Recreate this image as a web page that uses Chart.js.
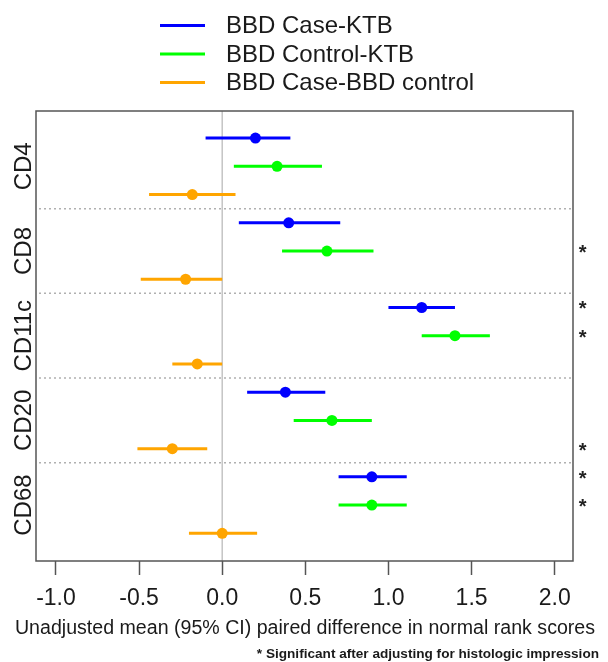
<!DOCTYPE html>
<html><head><meta charset="utf-8">
<script src="https://cdn.jsdelivr.net/npm/chart.js@4.4.0/dist/chart.umd.min.js"></script>
<style>html,body{margin:0;padding:0;background:#fff;}#wrap{position:relative;width:608px;height:662px;}</style>
</head><body><div id="wrap"><canvas id="c" width="608" height="662"></canvas></div>
<script>
const categories = ['CD4', 'CD8', 'CD11c', 'CD20', 'CD68'];
const seriesNames = ['BBD Case-KTB', 'BBD Control-KTB', 'BBD Case-BBD control'];
const seriesColors = ['#0000FF', '#00FF00', '#FFA500'];

const caseKtbMean = [0.20, 0.40, 1.20, 0.38, 0.90];
const caseKtbLow = [-0.10, 0.10, 1.00, 0.15, 0.70];
const caseKtbHigh = [0.41, 0.71, 1.40, 0.62, 1.11];

const controlKtbMean = [0.33, 0.63, 1.40, 0.66, 0.90];
const controlKtbLow = [0.07, 0.36, 1.20, 0.43, 0.70];
const controlKtbHigh = [0.60, 0.91, 1.61, 0.90, 1.11];

const caseControlMean = [-0.18, -0.22, -0.15, -0.30, 0.00];
const caseControlLow = [-0.44, -0.49, -0.30, -0.51, -0.20];
const caseControlHigh = [0.08, 0.00, 0.00, -0.09, 0.21];

const caseKtbSig = [false, false, true, false, true];
const controlKtbSig = [false, true, true, false, true];
const caseControlSig = [false, false, false, true, false];

const xTickValues = [-1.0, -0.5, 0.0, 0.5, 1.0, 1.5, 2.0];
const xTitle = 'Unadjusted mean (95% CI) paired difference in normal rank scores';
const footnote = '* Significant after adjusting for histologic impression';

const FONT = "'Liberation Sans', Arial, Helvetica, sans-serif";
const STAR_X = 2.168;

const means = [caseKtbMean, controlKtbMean, caseControlMean];
const lows = [caseKtbLow, controlKtbLow, caseControlLow];
const highs = [caseKtbHigh, controlKtbHigh, caseControlHigh];
const sigs = [caseKtbSig, controlKtbSig, caseControlSig];
const rowOf = (g, s) => 3 * g + s + 1;

const datasets = [];
seriesNames.forEach((name, s) => {
  const seg = [];
  categories.forEach((c, g) => {
    const y = rowOf(g, s);
    seg.push({x: lows[s][g], y}, {x: highs[s][g], y}, {x: null, y: null});
  });
  datasets.push({label: name, data: seg, showLine: true, spanGaps: false,
    borderColor: seriesColors[s], borderWidth: 3, pointRadius: 0, borderCapStyle: 'butt', order: 2});
});
seriesNames.forEach((name, s) => {
  datasets.push({label: name + ' mean', data: categories.map((c, g) => ({x: means[s][g], y: rowOf(g, s)})),
    pointRadius: 5.5, backgroundColor: seriesColors[s], borderColor: seriesColors[s], borderWidth: 0, order: 1});
});
const starPts = [];
seriesNames.forEach((n, s) => categories.forEach((c, g) => { if (sigs[s][g]) starPts.push({x: STAR_X, y: rowOf(g, s)}); }));

const decor = {
  id: 'decor',
  beforeDatasetsDraw(chart) {
    const {ctx, chartArea: a, scales: {x, y}} = chart;
    ctx.save();
    ctx.strokeStyle = '#c4c4c4'; ctx.lineWidth = 1.5;
    const x0 = x.getPixelForValue(0);
    ctx.beginPath(); ctx.moveTo(x0, a.top); ctx.lineTo(x0, a.bottom); ctx.stroke();
    ctx.strokeStyle = '#b0b0b0'; ctx.lineWidth = 1.5; ctx.setLineDash([2, 3]);
    for (let g = 1; g < categories.length; g++) {
      const yp = y.getPixelForValue(3 * g + 0.5);
      ctx.beginPath(); ctx.moveTo(a.left + 3, yp); ctx.lineTo(a.right, yp); ctx.stroke();
    }
    ctx.restore();
  },
  afterDraw(chart) {
    const {ctx, chartArea: a, scales: {x, y}} = chart;
    ctx.save();
    ctx.strokeStyle = '#555'; ctx.lineWidth = 1.5;
    ctx.strokeRect(a.left, a.top, a.right - a.left, a.bottom - a.top);
    // significance stars
    ctx.fillStyle = '#222'; ctx.font = 'bold 20px ' + FONT;
    ctx.textAlign = 'center'; ctx.textBaseline = 'alphabetic';
    starPts.forEach(p => {
      ctx.fillText('*', x.getPixelForValue(p.x), y.getPixelForValue(p.y) + 8);
    });
    // group labels
    ctx.fillStyle = '#1a1a1a'; ctx.font = '24px ' + FONT;
    ctx.textAlign = 'center'; ctx.textBaseline = 'middle';
    categories.forEach((c, g) => {
      const yp = y.getPixelForValue(3 * g + 2);
      ctx.save(); ctx.translate(23, yp); ctx.rotate(-Math.PI / 2); ctx.fillText(c, 0, 1); ctx.restore();
    });
    // x-axis title
    ctx.font = '19.6px ' + FONT;
    ctx.fillText(xTitle, 305, 629);
    // legend
    ctx.textAlign = 'left';
    seriesNames.forEach((n, i) => {
      const yp = 25.5 + i * 28.5;
      ctx.strokeStyle = seriesColors[i]; ctx.lineWidth = 3;
      ctx.beginPath(); ctx.moveTo(160, yp); ctx.lineTo(205, yp); ctx.stroke();
      ctx.fillStyle = '#1a1a1a'; ctx.font = '24px ' + FONT;
      ctx.fillText(n, 226, yp + 1);
    });
    // footnote
    ctx.font = 'bold 13.6px ' + FONT;
    ctx.fillStyle = '#1a1a1a';
    ctx.textAlign = 'right';
    ctx.fillText(footnote, 599, 654);
    ctx.restore();
  }
};

new Chart(document.getElementById('c'), {
  type: 'scatter',
  data: {datasets},
  options: {
    responsive: false, animation: false, devicePixelRatio: 1,
    layout: {padding: {left: 36, right: 35, top: 111, bottom: 0}},
    plugins: {legend: {display: false}, tooltip: {enabled: false}},
    scales: {
      x: {
        type: 'linear', min: -1.12, max: 2.11,
        afterBuildTicks: (scale) => { scale.ticks = xTickValues.map(v => ({value: v})); },
        afterFit: (scale) => { scale.height = 101; },
        ticks: {font: {family: FONT, size: 23}, color: '#1a1a1a', padding: 10,
          callback: (v) => Number(v).toFixed(1), maxRotation: 0, autoSkip: false},
        grid: {drawOnChartArea: false, drawTicks: true, tickLength: 14, tickColor: '#555', tickWidth: 1.5},
        border: {display: false},
        title: {display: false}
      },
      y: {type: 'linear', min: 0.04, max: 15.98, reverse: true, display: false}
    }
  },
  plugins: [decor]
});
</script></body></html>
